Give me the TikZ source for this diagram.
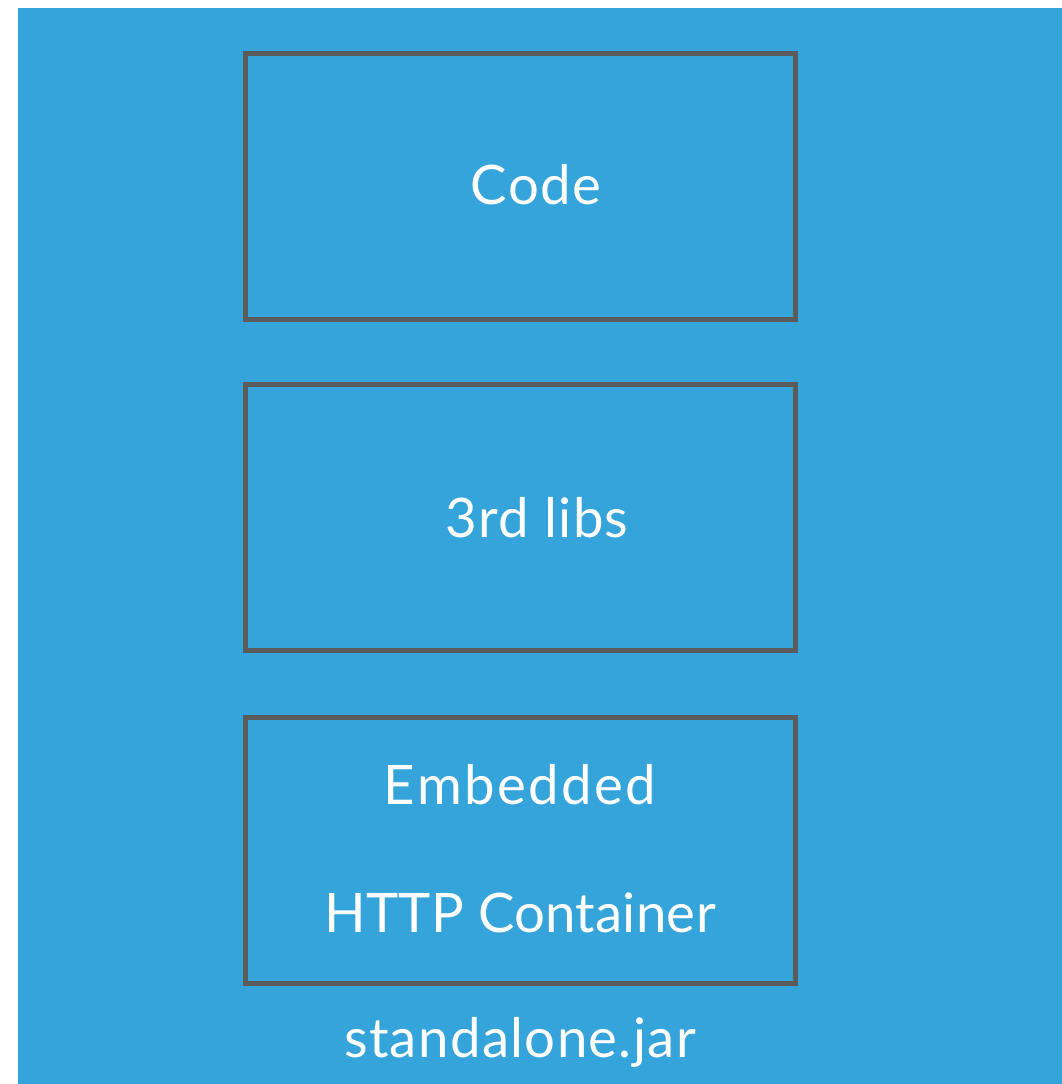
\documentclass[tikz,border=0pt]{standalone}
\usepackage{fontspec}
\setmainfont{Lato}[LetterSpace=2.5]
\definecolor{bg}{HTML}{34A4DB}
\definecolor{edge}{HTML}{5B5B5B}
\begin{document}
\begin{tikzpicture}[x=1pt,y=-1pt,
  box/.style={draw=edge,line width=5pt,inner sep=0pt,minimum width=549.5pt,minimum height=266pt},
  lbl/.style={text=white,font=\fontsize{54.5}{60}\selectfont,anchor=base,inner sep=0pt}]
\useasboundingbox (0,0) rectangle (1062,1084);
\fill[bg] (18,8) rectangle (1062,1084);
\node[box] (code) at (520.25,186.5) {};
\node[box] (libs) at (520.25,517.25) {};
\node[box] (http) at (520.25,850.25) {};
\node[lbl] (codet) at (536,204) {Code};
\node[lbl] (libst) at (537,537) {3rd libs};
\node[lbl] (embt) at (520,804) {\addfontfeature{LetterSpace=4.5}Embedded};
\node[lbl] (httpt) at (520,932) {\addfontfeature{LetterSpace=0.5}HTTP Container};
\node[lbl] (jar) at (520,1057) {standalone.jar};
\end{tikzpicture}
\end{document}
